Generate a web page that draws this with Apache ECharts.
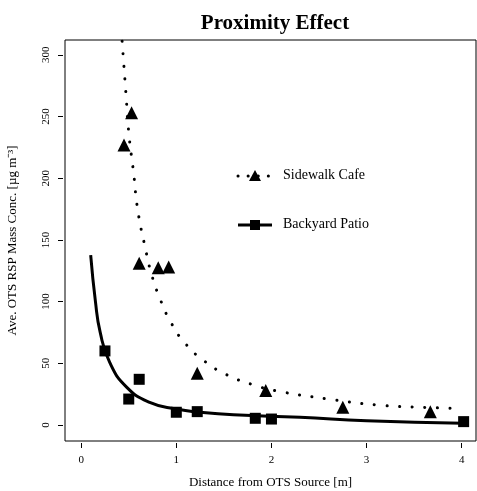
<!DOCTYPE html>
<html><head><meta charset="utf-8">
<script src="https://cdn.jsdelivr.net/npm/echarts@6/dist/echarts.min.js"></script>
<style>html,body{margin:0;padding:0;background:#fff}#c{width:477px;height:491px}</style>
</head><body><div id="c"></div>
<script>
const cafePts = [[0.45,227],[0.53,253],[0.61,131],[0.81,127.5],[0.92,128],[1.22,42],[1.94,28],[2.75,14.3],[3.67,10.8]];
const patioPts = [[0.25,60],[0.50,21],[0.61,37],[1.0,10.3],[1.22,10.8],[1.83,5.4],[2.0,4.8],[4.02,2.7]];
const cafeFit = [[0.43,311],[0.47,269],[0.50,237],[0.55,205],[0.595,174],[0.675,143],[0.74,122],[0.83,102],[0.944,83],[1.095,66],[1.30,51.5],[1.53,40.7],[1.79,33],[2.05,27.7],[2.60,21],[3.14,16],[3.70,14],[3.97,13.5]];
const patioFit = [[0.10,137.7],[0.15,100],[0.20,75],[0.30,50.7],[0.48,30.5],[0.72,18.3],[1.0,12.9],[1.25,10.3],[1.6,8.2],[2.30,6.2],[3.0,3.5],[4.01,1.4]];
const xTicks = [0,1,2,3,4];
const yTicks = [0,50,100,150,200,250,300];
const F = 'Liberation Serif';
const chart = echarts.init(document.getElementById('c'));
chart.setOption({
  animation:false,
  title:{text:'Proximity Effect',left:270,top:8,textAlign:'center',textStyle:{fontFamily:F,fontSize:21,fontWeight:'bold',color:'#000'}},
  grid:{left:65,right:1,top:40,bottom:50,show:true,borderColor:'#000',borderWidth:1,outerBoundsMode:'none',containLabel:false},
  xAxis:{type:'value',min:-0.17,max:4.15,offset:2,
    name:'Distance from OTS Source [m]',nameLocation:'middle',nameGap:33,nameTextStyle:{fontFamily:F,fontSize:13,color:'#000'},
    splitLine:{show:false},axisLine:{show:false,onZero:false},
    axisTick:{show:true,length:5,inside:false,customValues:xTicks,lineStyle:{color:'#000',width:1}},
    axisLabel:{customValues:xTicks,fontFamily:F,fontSize:11,color:'#000',margin:12}},
  yAxis:{type:'value',min:-13,max:312,offset:2,
    name:'Ave. OTS RSP Mass Conc. [µg m⁻³]',nameLocation:'middle',nameGap:44,nameTextStyle:{fontFamily:F,fontSize:13,color:'#000'},
    splitLine:{show:false},axisLine:{show:false,onZero:false},
    axisTick:{show:true,length:5,customValues:yTicks,lineStyle:{color:'#000',width:1}},
    axisLabel:{customValues:yTicks,rotate:90,fontFamily:F,fontSize:11,color:'#000',margin:11}},
  series:[
    {type:'line',data:cafeFit,symbol:'none',smooth:true,lineStyle:{color:'#000',width:3,type:[0.1,12.5],cap:'round'}},
    {type:'line',data:patioFit,symbol:'none',smooth:true,lineStyle:{color:'#000',width:3}},
    {type:'scatter',data:cafePts,symbol:'triangle',symbolSize:13,itemStyle:{color:'#000',opacity:1}},
    {type:'scatter',data:patioPts,symbol:'rect',symbolSize:11,itemStyle:{color:'#000',opacity:1}}
  ],
  graphic:[
    {type:'line',shape:{x1:238,y1:176,x2:272,y2:176},style:{stroke:'#000',lineWidth:3,lineDash:[0.1,10],lineCap:'round'}},
    {type:'polygon',shape:{points:[[255,170],[249,181],[261,181]]},style:{fill:'#000'}},
    {type:'text',left:283,top:168,style:{text:'Sidewalk Cafe',font:'14px "Liberation Serif"',fill:'#000'}},
    {type:'line',shape:{x1:238,y1:225,x2:272,y2:225},style:{stroke:'#000',lineWidth:3}},
    {type:'rect',shape:{x:250,y:220,width:10,height:10},style:{fill:'#000'}},
    {type:'text',left:283,top:217,style:{text:'Backyard Patio',font:'14px "Liberation Serif"',fill:'#000'}}
  ]
});
</script></body></html>
